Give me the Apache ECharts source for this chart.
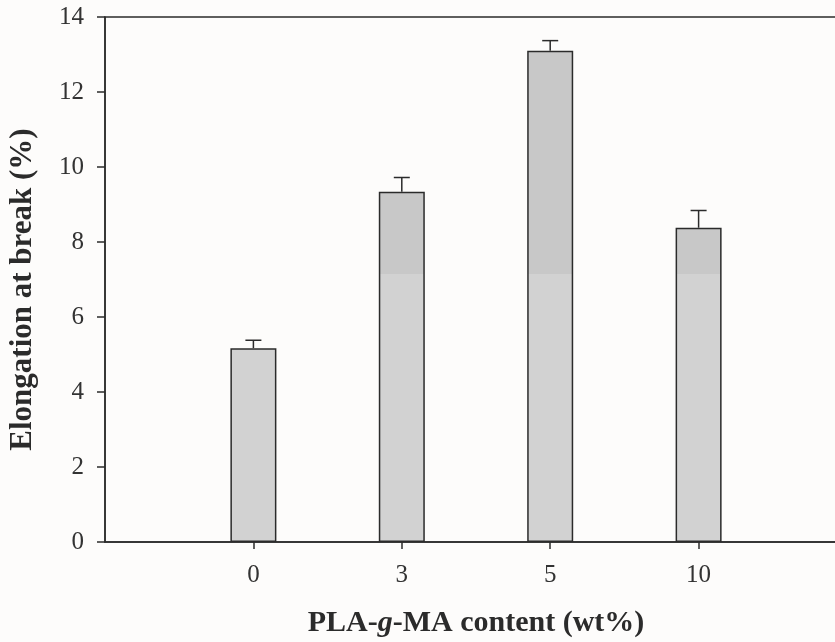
<!DOCTYPE html>
<html>
<head>
<meta charset="utf-8">
<script src="https://cdn.jsdelivr.net/npm/echarts@6/dist/echarts.min.js"></script>
<style>
  html, body { margin: 0; padding: 0; background: #fdfcfb; }
  #chart { width: 835px; height: 642px; }
</style>
</head>
<body>
<div id="chart"></div>
<script>
// PLA-g-MA content categories (wt%)
const categories = ['0', '3', '5', '10'];
// elongation at break (%) means and standard deviations
const elongation = [5.17, 9.34, 13.10, 8.38];
const stdDev = [0.21, 0.38, 0.27, 0.46];
const yTicks = [0, 2, 4, 6, 8, 10, 12, 14];

const positions = categories.map((c, i) => i + 1);
const barData = elongation.map((v, i) => [positions[i], v]);
const errData = elongation.map((v, i) => [positions[i], v, v + stdDev[i]]);

const font = '"Liberation Serif", "DejaVu Serif", serif';
const ink = '#2b2b2b';

const myChart = echarts.init(document.getElementById('chart'));

const option = {
  backgroundColor: '#fdfcfb',
  animation: false,
  grid: {
    left: 105,
    right: -12,
    top: 17,
    bottom: 100,
    outerBoundsMode: 'none',
    containLabel: false,
    show: true,
    borderColor: ink,
    borderWidth: 1.5,
    backgroundColor: 'transparent'
  },
  xAxis: {
    type: 'value',
    min: 0,
    max: 5,
    interval: 1,
    name: '{b|PLA-}{i|g}{b|-MA content (wt%)}',
    nameLocation: 'middle',
    nameGap: 66,
    nameTextStyle: {
      fontFamily: font,
      fontSize: 30,
      fontWeight: 'bold',
      color: ink,
      rich: {
        b: { fontFamily: font, fontSize: 30, fontWeight: 'bold', color: ink },
        i: { fontFamily: font, fontSize: 30, fontWeight: 'bold', fontStyle: 'italic', color: ink }
      }
    },
    splitLine: { show: false },
    axisLine: { lineStyle: { color: ink, width: 1.5 } },
    axisTick: {
      show: true,
      length: 7,
      customValues: positions,
      lineStyle: { color: ink, width: 1.5 }
    },
    axisLabel: {
      customValues: positions,
      margin: 21,
      fontFamily: font,
      fontSize: 25,
      color: '#333',
      formatter: (v) => categories[Math.round(v) - 1] || ''
    }
  },
  yAxis: {
    type: 'value',
    min: 0,
    max: 14,
    interval: 2,
    name: 'Elongation at break (%)',
    nameLocation: 'middle',
    nameGap: 67,
    nameTextStyle: {
      fontFamily: font,
      fontSize: 31,
      fontWeight: 'bold',
      color: ink,
      padding: [0, 20, 0, 0]
    },
    splitLine: { show: false },
    axisLine: { show: true, lineStyle: { color: ink, width: 1.5 } },
    axisTick: { show: true, length: 8, lineStyle: { color: ink, width: 1.5 } },
    axisLabel: {
      margin: 21,
      fontFamily: font,
      fontSize: 25,
      color: '#333',
      formatter: (v) => yTicks.indexOf(v) >= 0 ? String(v) : ''
    }
  },
  series: [
    {
      type: 'bar',
      data: barData,
      barWidth: 46,
      itemStyle: {
        color: {
          type: 'linear',
          global: true,
          x: 0, y: 0, x2: 0, y2: 642,
          colorStops: [
            { offset: 0, color: '#c8c8c8' },
            { offset: 0.426, color: '#c8c8c8' },
            { offset: 0.427, color: '#d2d2d2' },
            { offset: 1, color: '#d2d2d2' }
          ]
        },
        borderColor: ink,
        borderWidth: 1.5
      },
      z: 2
    },
    {
      type: 'custom',
      data: errData,
      z: 3,
      renderItem: (params, api) => {
        const x = api.value(0);
        const top = api.coord([x, api.value(1)]);
        const hi = api.coord([x, api.value(2)]);
        const half = 8;
        const style = { stroke: ink, lineWidth: 1.5 };
        return {
          type: 'group',
          children: [
            { type: 'line', shape: { x1: top[0], y1: top[1], x2: hi[0], y2: hi[1] }, style: style },
            { type: 'line', shape: { x1: hi[0] - half, y1: hi[1], x2: hi[0] + half, y2: hi[1] }, style: style }
          ]
        };
      }
    }
  ]
};

myChart.setOption(option);
</script>
</body>
</html>
